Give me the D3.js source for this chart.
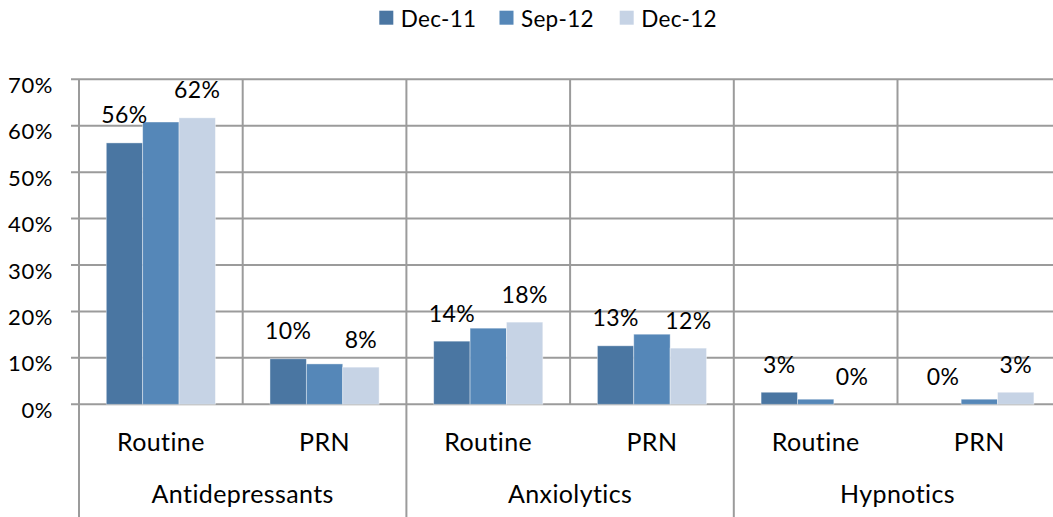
<!DOCTYPE html>
<html>
<head>
<meta charset="utf-8">
<script src="https://cdn.jsdelivr.net/npm/d3@7"></script>
<style>
  html, body { margin: 0; padding: 0; background: #fff; }
  svg { display: block; font-family: Lato, "Open Sans", sans-serif; }
</style>
</head>
<body>
<svg id="chart" width="1053" height="517"></svg>
<script>
// ---- data ----
const groups = ["Antidepressants", "Anxiolytics", "Hypnotics"];
const subCategories = ["Routine", "PRN"];
const seriesNames = ["Dec-11", "Sep-12", "Dec-12"];
const dec11 = [0.563, 0.098, 0.136, 0.126, 0.026, 0.0];
const sep12 = [0.608, 0.087, 0.164, 0.151, 0.011, 0.011];
const dec12 = [0.617, 0.080, 0.177, 0.121, 0.0, 0.026];
const labelledSeries = ["Dec-11", "Dec-12"];
const yTicks = [0, 0.1, 0.2, 0.3, 0.4, 0.5, 0.6, 0.7];
const colors = ["#4a76a2", "#5587b8", "#c6d3e5"];

(function () {
  const seriesValues = [dec11, sep12, dec12];
  const cells = [];
  groups.forEach((g, gi) => subCategories.forEach((s, si) => cells.push({ id: gi * subCategories.length + si, group: g, sub: s })));

  const svg = d3.select("#chart");
  const W = 1053, H = 517;
  const pLeft = 79, pRight = 1061.2, pTop = 79.3, pBase = 404.3;
  const gridColor = "#9b9b9b";

  const x0 = d3.scaleBand().domain(cells.map(c => c.id)).range([pLeft, pRight]).paddingInner(0).paddingOuter(0);
  const x1 = d3.scaleBand().domain(seriesNames).range([0, x0.bandwidth()]).paddingInner(0).paddingOuter(0.75);
  const y = d3.scaleLinear().domain([0, 0.7]).range([pBase, pTop]);
  const color = d3.scaleOrdinal().domain(seriesNames).range(colors);
  const fmt = d3.format(".0%");

  // horizontal gridlines
  svg.append("g").selectAll("line").data(yTicks).join("line")
    .attr("x1", pLeft - 8).attr("x2", W)
    .attr("y1", d => y(d)).attr("y2", d => y(d))
    .attr("stroke", gridColor).attr("stroke-width", 2);

  // vertical gridlines at sub-category boundaries (above baseline)
  const bounds = cells.map(c => x0(c.id)).concat([pRight]);
  svg.append("g").selectAll("line").data(bounds).join("line")
    .attr("x1", d => d).attr("x2", d => d)
    .attr("y1", pTop).attr("y2", pBase)
    .attr("stroke", gridColor).attr("stroke-width", 2);

  // group boundaries below baseline
  const groupBounds = groups.map((g, gi) => x0(gi * subCategories.length)).concat([pRight]);
  svg.append("g").selectAll("line").data(groupBounds).join("line")
    .attr("x1", d => d).attr("x2", d => d)
    .attr("y1", pBase).attr("y2", H)
    .attr("stroke", gridColor).attr("stroke-width", 2);

  // y axis
  const yAxis = d3.axisLeft(y).tickValues(yTicks).tickFormat(fmt).tickSize(0).tickPadding(26);
  const ya = svg.append("g").attr("transform", `translate(${pLeft},0)`).call(yAxis);
  ya.select(".domain").remove();
  ya.selectAll("text").attr("font-family", "Lato, sans-serif").attr("font-size", 22)
    .attr("letter-spacing", 0.6).attr("fill", "#000").attr("y", 6);

  // bars
  const barData = [];
  cells.forEach(c => seriesNames.forEach((s, si) => barData.push({ cell: c, series: s, value: seriesValues[si][c.id] })));

  svg.append("g").selectAll("rect").data(barData).join("rect")
    .attr("x", d => x0(d.cell.id) + x1(d.series))
    .attr("y", d => y(d.value))
    .attr("width", x1.bandwidth())
    .attr("height", d => pBase - y(d.value))
    .attr("fill", d => color(d.series))
    .attr("stroke", "#ffffff").attr("stroke-opacity", 0.5).attr("stroke-width", 0.8);

  // data labels
  svg.append("g").selectAll("text").data(barData.filter(d => labelledSeries.includes(d.series))).join("text")
    .attr("x", d => x0(d.cell.id) + x1(d.series) + x1.bandwidth() / 2)
    .attr("y", d => y(d.value) - 19.5)
    .attr("text-anchor", "middle")
    .attr("font-size", 23).attr("letter-spacing", 0.4).attr("fill", "#000")
    .text(d => fmt(d.value));

  // sub-category labels
  svg.append("g").selectAll("text").data(cells).join("text")
    .attr("x", d => x0(d.id) + x0.bandwidth() / 2)
    .attr("y", 450.5)
    .attr("text-anchor", "middle")
    .attr("font-size", 25).attr("letter-spacing", 0.4).attr("fill", "#000")
    .text(d => d.sub);

  // group labels
  svg.append("g").selectAll("text").data(groups).join("text")
    .attr("x", (d, gi) => (groupBounds[gi] + groupBounds[gi + 1]) / 2)
    .attr("y", 502.5)
    .attr("text-anchor", "middle")
    .attr("font-size", 25).attr("letter-spacing", 0.4).attr("fill", "#000")
    .text(d => d);

  // legend
  const legend = svg.append("g").selectAll("g").data(seriesNames).join("g")
    .attr("transform", (d, i) => `translate(${379.3 + i * 120.2},0)`);
  legend.append("rect").attr("x", 0).attr("y", 10.7).attr("width", 14).attr("height", 14)
    .attr("fill", d => color(d));
  legend.append("text").attr("x", 21.5).attr("y", 27)
    .attr("font-size", 22.5).attr("letter-spacing", 0.3).attr("fill", "#000").text(d => d);
})();
</script>
</body>
</html>
